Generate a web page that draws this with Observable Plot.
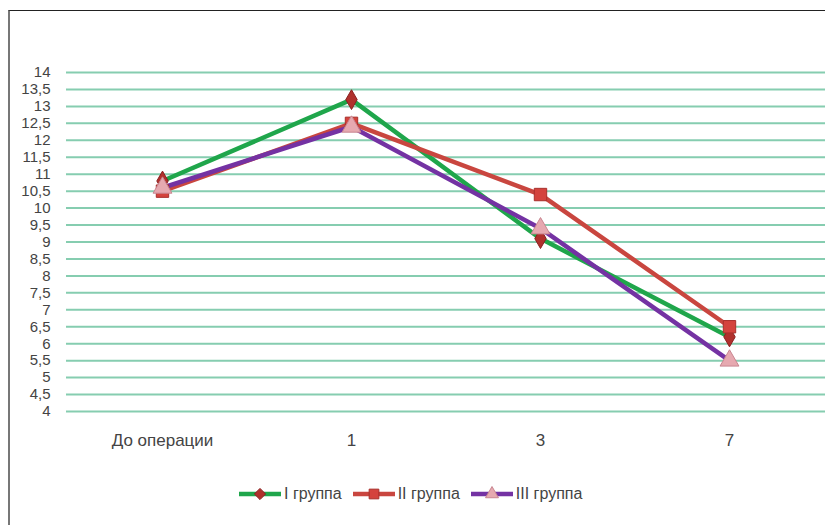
<!DOCTYPE html>
<html>
<head>
<meta charset="utf-8">
<script src="https://cdn.jsdelivr.net/npm/d3@7"></script>
<script src="https://cdn.jsdelivr.net/npm/@observablehq/plot@0.6"></script>
<style>
  body { margin: 0; background: #fff; font-family: "Liberation Sans", Arial, sans-serif; }
  #chart { position: relative; width: 825px; height: 525px; overflow: hidden; background: #fff; }
  #frame { position: absolute; left: 8px; top: 10px; right: -4px; bottom: -4px;
           border-top: 1.5px solid #222; border-left: 2px solid #777; pointer-events: none; }
  #legend { position: absolute; left: 238px; top: 485px; display: flex; align-items: center;
            gap: 10px; font-size: 16px; color: #444; }
  #legend .item { display: flex; align-items: center; gap: 2px; }
  #plot svg g[aria-label="y-axis tick label"] text { font-size: 15px; }
</style>
</head>
<body>
<div id="chart">
  <div id="plot"></div>
  <div id="frame"></div>
  <div id="legend"></div>
</div>
<script>
// Days after surgery
const categories = ["До операции", "1", "3", "7"];
// Mean values for each group
const group1 = [10.8, 13.2, 9.1, 6.2];
const group2 = [10.5, 12.5, 10.4, 6.5];
const group3 = [10.6, 12.4, 9.4, 5.5];
const seriesNames = ["I группа", "II группа", "III группа"];
const yTicks = d3.range(4, 14.001, 0.5);

const lineColors = ["#1fa64b", "#c9463f", "#7432a3"];
const markerFills = ["#b0302c", "#d4433d", "#e6a9b0"];
const markerStrokes = ["#8a2020", "#a8302c", "#c98690"];
const symbols = ["diamond", "square", "triangle"];
const markerR = [6, 7, 7];

const allSeries = [group1, group2, group3];
const rows = allSeries.flatMap((vals, i) =>
  vals.map((v, j) => ({ series: seriesNames[i], cat: categories[j], value: v, idx: i })));

const lineMarks = seriesNames.map((name, i) =>
  Plot.line(rows.filter(d => d.idx === i), {
    x: "cat", y: "value", stroke: lineColors[i], strokeWidth: 4.5, strokeLinejoin: "round"
  }));
const dotMarks = seriesNames.map((name, i) =>
  Plot.dot(rows.filter(d => d.idx === i), {
    x: "cat", y: "value", symbol: () => symbols[i], r: markerR[i],
    fill: markerFills[i], stroke: markerStrokes[i], strokeWidth: 1
  }));

const chart = Plot.plot({
  width: 825,
  height: 470,
  marginLeft: 66,
  marginRight: 0,
  marginTop: 72,
  marginBottom: 59,
  style: { fontFamily: "'Liberation Sans', Arial, sans-serif", fontSize: "17px", color: "#444", background: "transparent" },
  x: { type: "point", domain: categories, padding: 0.5, label: null, tickSize: 0, tickPadding: 22 },
  y: { domain: [4, 14], ticks: yTicks, tickFormat: d => String(d).replace(".", ","),
       label: null, tickSize: 0, tickPadding: 16 },
  symbol: { type: "identity" },
  marks: [
    Plot.ruleY(yTicks, { stroke: "#86cdb0", strokeWidth: 2 }),
    ...lineMarks,
    ...dotMarks
  ]
});
document.getElementById("plot").appendChild(chart);

// Legend: line swatch with marker, then the group name
const legend = d3.select("#legend");
seriesNames.forEach((name, i) => {
  const item = legend.append("div").attr("class", "item");
  const svg = item.append("svg").attr("width", 44).attr("height", 18);
  svg.append("line").attr("x1", 1).attr("x2", 43).attr("y1", 9).attr("y2", 9)
    .attr("stroke", lineColors[i]).attr("stroke-width", 4.5);
  svg.append("path")
    .attr("transform", "translate(22,9)")
    .attr("d", d3.symbol(i === 0 ? d3.symbolDiamond2 : i === 1 ? d3.symbolSquare2 : d3.symbolTriangle2,
                         i === 0 ? 80 : 120)())
    .attr("fill", markerFills[i]).attr("stroke", markerStrokes[i]);
  item.append("span").text(name);
});
</script>
</body>
</html>
